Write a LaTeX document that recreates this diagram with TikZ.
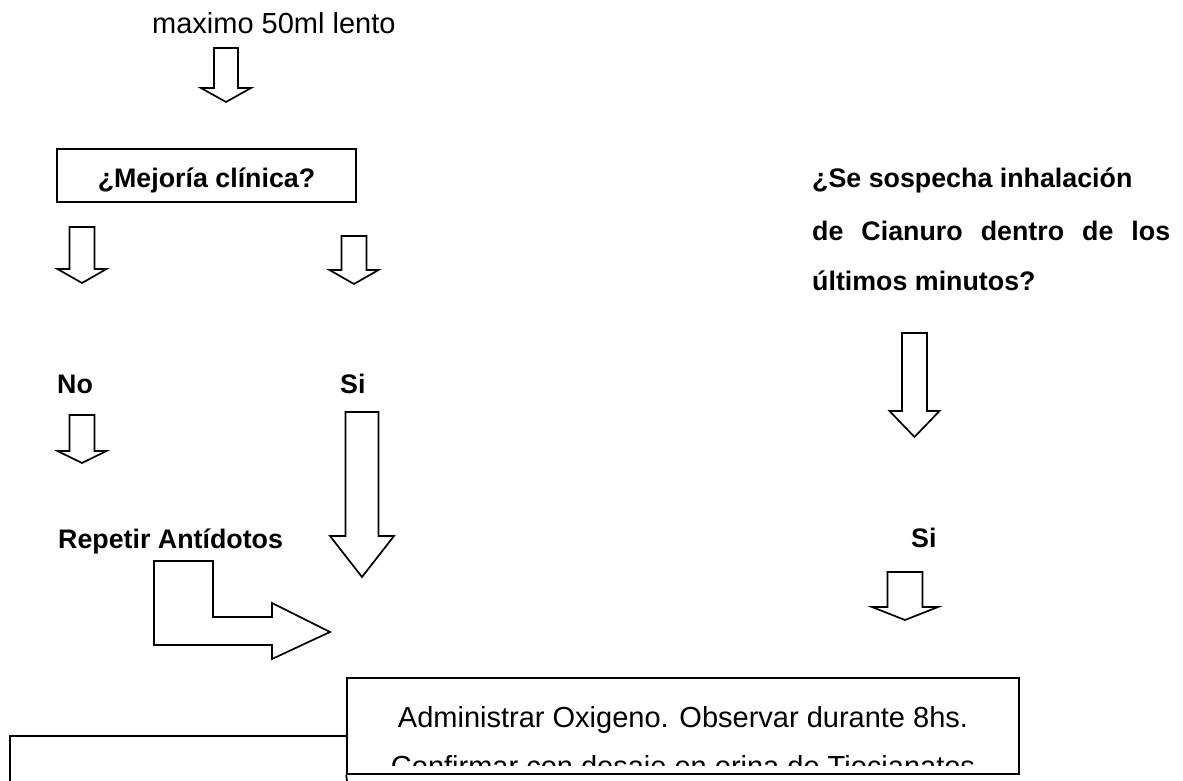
\documentclass[tikz,border=0pt]{standalone}
\usepackage{fontspec}
\setmainfont{Liberation Sans}

% flecha de bloque hacia abajo: centro, medio ancho, arriba, base punta, medio ancho punta, punta
\newcommand{\flechaabajo}[6]{%
  \draw[bloque] (#1-#2,#3) -- (#1+#2,#3) -- (#1+#2,#4) -- (#1+#5,#4)
    -- (#1,#6) -- (#1-#5,#4) -- (#1-#2,#4) -- cycle;}

\begin{document}
\begin{tikzpicture}[x=1pt,y=-1pt,
  bloque/.style={draw=black,line width=1.7pt,line join=miter},
  caja/.style={draw=black,line width=1.7pt,fill=white,inner sep=0pt},
  normal/.style={font=\fontsize{29}{35}\selectfont,inner sep=0pt},
  negrita/.style={font=\fontsize{26.8}{32}\selectfont\bfseries,inner sep=0pt}]
\useasboundingbox (0,0) rectangle (1183,781);
\clip (0,0) rectangle (1183,781);

% columna izquierda
\node[normal,anchor=base west] (tdosis) at (152,34) {maximo 50ml lento};
\flechaabajo{226}{12}{48}{88}{25}{102}
\node[caja,negrita,minimum width=299pt,minimum height=53pt,
  text height=28pt,text depth=5pt] (mejoria) at (206.5,175.5) {¿Mejoría clínica?};
\flechaabajo{82}{12.5}{227}{269}{24.5}{283}
\flechaabajo{354}{12.5}{236}{270}{24.5}{284}
\node[negrita,anchor=base west] (tno) at (57,393) {No};
\node[negrita,anchor=base west] (tsi) at (340,393) {Si};
\flechaabajo{82}{12.5}{415}{451}{24.5}{463}
\flechaabajo{362}{16.5}{412}{536}{32}{577}
\node[negrita,anchor=base west] (trepetir) at (58,548) {Repetir Antídotos};
\draw[bloque] (154,561) -- (213,561) -- (213,617) -- (272,617) -- (272,603)
  -- (330,632) -- (272,659) -- (272,645) -- (154,645) -- cycle;

% columna derecha
\node[negrita,anchor=base west] (tsospecha) at (812,187) {¿Se sospecha inhalación};
\node[negrita,anchor=base west] (tcianuro) at (812,240)
  {\makebox[358pt][s]{de Cianuro dentro de los}};
\node[negrita,anchor=base west] (tminutos) at (812,290) {últimos minutos?};
\flechaabajo{914.5}{12.5}{333}{411}{25}{437}
\node[negrita,anchor=base west] (tsider) at (911,547) {Si};
\flechaabajo{905}{17.5}{572}{607}{33}{620}

% cajas de abajo
\draw[bloque] (10,781) -- (10,736) -- (347,736);
\node[caja,minimum width=672pt,minimum height=96pt] (oxigeno) at (683,726) {};
\draw[bloque] (oxigeno.south west) -- (347,781);
\begin{scope}
  \clip (347,678) rectangle (1019,765);
  \node[normal,anchor=base] (toxigeno) at (683,727)
    {Administrar Oxigeno. Observar durante 8hs.};
  \node[normal,anchor=base] (tconfirmar) at (683,776)
    {Confirmar con dosaje en orina de Tiocianatos};
\end{scope}
\end{tikzpicture}
\end{document}
